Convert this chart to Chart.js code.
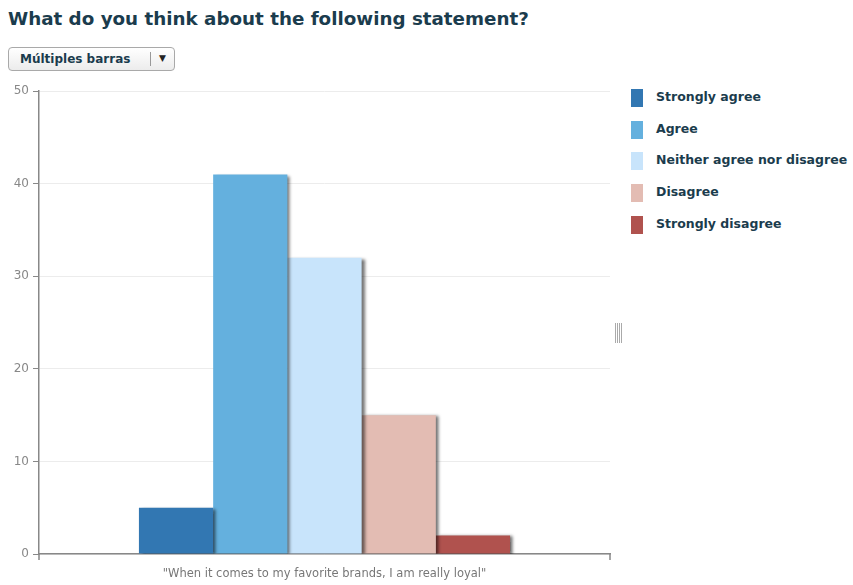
<!DOCTYPE html>
<html>
<head>
<meta charset="utf-8">
<script src="https://cdn.jsdelivr.net/npm/chart.js@4"></script>
<style>
  body { margin: 0; background: #fff; font-family: "DejaVu Sans", Verdana, sans-serif; width: 853px; height: 585px; position: relative; overflow: hidden; }
  h1 { position: absolute; left: 8px; top: 8px; margin: 0; font-size: 18.3px; font-weight: bold; color: #1b3c4d; white-space: nowrap; }
  .picker { position: absolute; left: 8px; top: 47px; width: 167px; height: 24px; border: 1px solid #a9a9a9; border-radius: 4px;
    background: linear-gradient(#ffffff, #ececec); box-sizing: border-box; font-size: 12px; font-weight: bold; color: #1b3c4d; }
  .picker .lbl { position: absolute; left: 11px; top: 4px; }
  .picker .sep { position: absolute; left: 141px; top: 4px; height: 14px; border-left: 1px solid #999; }
  .picker .arrow { position: absolute; left: 150px; top: 5px; font-size: 9px; color: #222; }
  #wrap { position: absolute; left: 0; top: 80px; width: 620px; height: 505px; }
  #legend { position: absolute; left: 631px; top: 88px; margin: 0; padding: 0; list-style: none; }
  #legend li { position: relative; height: 31.7px; font-size: 12.5px; font-weight: bold; color: #1b3c4d; }
  #legend li span.sw { position: absolute; left: 0; top: 1px; width: 12px; height: 18px; }
  #legend li span.tx { position: absolute; left: 25px; top: 1px; white-space: nowrap; }
  .grip { position: absolute; left: 615px; top: 323px; width: 7px; height: 20px;
    background: repeating-linear-gradient(90deg, #aaa 0 1px, #fff 1px 2px); }
</style>
</head>
<body>
<h1>What do you think about the following statement?</h1>
<div class="picker"><span class="lbl">Múltiples barras</span><span class="sep"></span><span class="arrow">▼</span></div>
<div id="wrap"><canvas id="chart"></canvas></div>
<ul id="legend"></ul>
<div class="grip"></div>
<script>
const categories = ['"When it comes to my favorite brands, I am really loyal"'];
const seriesNames = ["Strongly agree", "Agree", "Neither agree nor disagree", "Disagree", "Strongly disagree"];
const seriesValues = [5, 41, 32, 15, 2];
const seriesColors = ["#3277b2", "#64b0de", "#c8e4fb", "#e3bcb3", "#b0524e"];
const yTicks = [0, 10, 20, 30, 40, 50];

// legend on the right, built from the same series list
document.getElementById("legend").innerHTML = seriesNames.map((name, i) => `
  <li><span class="sw" style="background:${seriesColors[i]}"></span><span class="tx">${name}</span></li>
`).join("");

// soft drop shadow to the right of each bar
const barShadow = {
  id: "barShadow",
  beforeDatasetsDraw(chart) {
    const ctx = chart.ctx;
    ctx.save();
    ctx.shadowColor = "rgba(0,0,0,0.55)";
    ctx.shadowBlur = 3;
    ctx.shadowOffsetX = 3;
    ctx.shadowOffsetY = 1;
  },
  afterDatasetsDraw(chart) {
    chart.ctx.restore();
  }
};

// small downward ticks at both ends of the x axis
const axisEnds = {
  id: "axisEnds",
  afterDraw(chart) {
    const { ctx, chartArea } = chart;
    ctx.save();
    ctx.strokeStyle = "#888";
    ctx.lineWidth = 1.5;
    ctx.beginPath();
    [chartArea.left, chartArea.right].forEach(x => {
      ctx.moveTo(x, chartArea.bottom);
      ctx.lineTo(x, chartArea.bottom + 6);
    });
    ctx.stroke();
    ctx.restore();
  }
};

new Chart(document.getElementById("chart"), {
  type: "bar",
  data: {
    labels: categories,
    datasets: seriesNames.map((name, i) => ({
      label: name,
      data: [seriesValues[i]],
      backgroundColor: seriesColors[i],
      borderWidth: 0,
      barPercentage: 1,
      categoryPercentage: 0.65
    }))
  },
  options: {
    responsive: true,
    maintainAspectRatio: false,
    animation: false,
    layout: { padding: { top: 11, right: 10, left: 0, bottom: 0 } },
    plugins: { legend: { display: false }, tooltip: { enabled: false } },
    scales: {
      x: {
        grid: { display: false },
        border: { color: "#888", width: 1.5 },
        ticks: { display: false },
        afterFit: scale => { scale.height = 31; },
        title: {
          display: true,
          text: categories[0],
          color: "#777",
          font: { family: "DejaVu Sans", size: 11.5 },
          padding: { top: 8, bottom: 4 }
        }
      },
      y: {
        min: 0,
        max: 50,
        afterBuildTicks: scale => { scale.ticks = yTicks.map(v => ({ value: v })); },
        afterFit: scale => { scale.width = 39; },
        border: { color: "#888", width: 1.5 },
        grid: { color: "#ececec", tickColor: "#888", tickLength: 6 },
        ticks: { color: "#888", font: { family: "DejaVu Sans", size: 12 }, padding: 4 }
      }
    }
  },
  plugins: [barShadow, axisEnds]
});
</script>
</body>
</html>
